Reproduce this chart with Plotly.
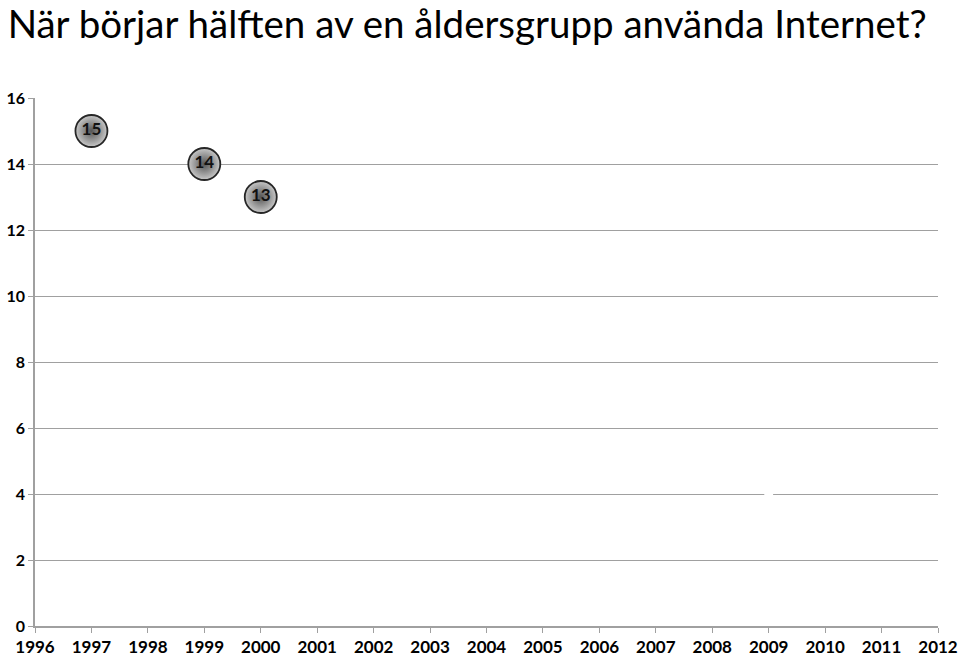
import plotly.graph_objects as go

years = [1997, 1999, 2000]
ages = [15, 14, 13]
labels = ["15", "14", "13"]
hidden_year = [2009]
hidden_val = [4]
tick_years = list(range(1996, 2013))
y_ticks = [0, 2, 4, 6, 8, 10, 12, 14, 16]

fig = go.Figure()
fig.add_trace(go.Scatter(
    x=hidden_year, y=hidden_val, mode="markers",
    marker=dict(size=9, color="white", line=dict(width=0)),
    hoverinfo="skip", showlegend=False,
))
fig.add_trace(go.Scatter(
    x=years, y=ages, mode="markers+text", text=labels,
    textposition="middle center",
    textfont=dict(family="Lato", size=17, color="#111111", weight="bold"),
    marker=dict(size=32, color="#c8c8c8",
                gradient=dict(type="radial", color="#555555"),
                line=dict(width=1.8, color="#262626")),
    showlegend=False,
))

fig.update_layout(
    width=960, height=657,
    margin=dict(l=35, r=22, t=98, b=31),
    paper_bgcolor="white", plot_bgcolor="white",
    title=dict(text="När börjar hälften av en åldersgrupp använda Internet?",
               x=0.008, xanchor="left", y=0.962, yanchor="middle",
               font=dict(family="Lato", size=38.5, color="#000000")),
    font=dict(family="Lato", color="#000000"),
)
fig.update_xaxes(
    range=[1996, 2012], tickmode="array", tickvals=tick_years,
    ticktext=[str(y) for y in tick_years],
    showgrid=False, zeroline=False, automargin=False,
    showline=True, linecolor="#a0a0a0", linewidth=1.5,
    ticks="outside", ticklen=5, tickcolor="#a0a0a0",
    tickfont=dict(family="Lato", size=17, color="#000000", weight="bold"),
    fixedrange=True,
)
fig.update_yaxes(
    range=[0, 16], tickmode="array", tickvals=y_ticks,
    showgrid=True, gridcolor="#a0a0a0", gridwidth=1,
    zeroline=False, showline=True, linecolor="#a0a0a0", linewidth=1.5,
    automargin=False,
    ticks="outside", ticklen=5, tickcolor="#a0a0a0",
    tickfont=dict(family="Lato", size=16, color="#000000", weight="bold"),
    fixedrange=True,
)

fig.write_html("out.html")
